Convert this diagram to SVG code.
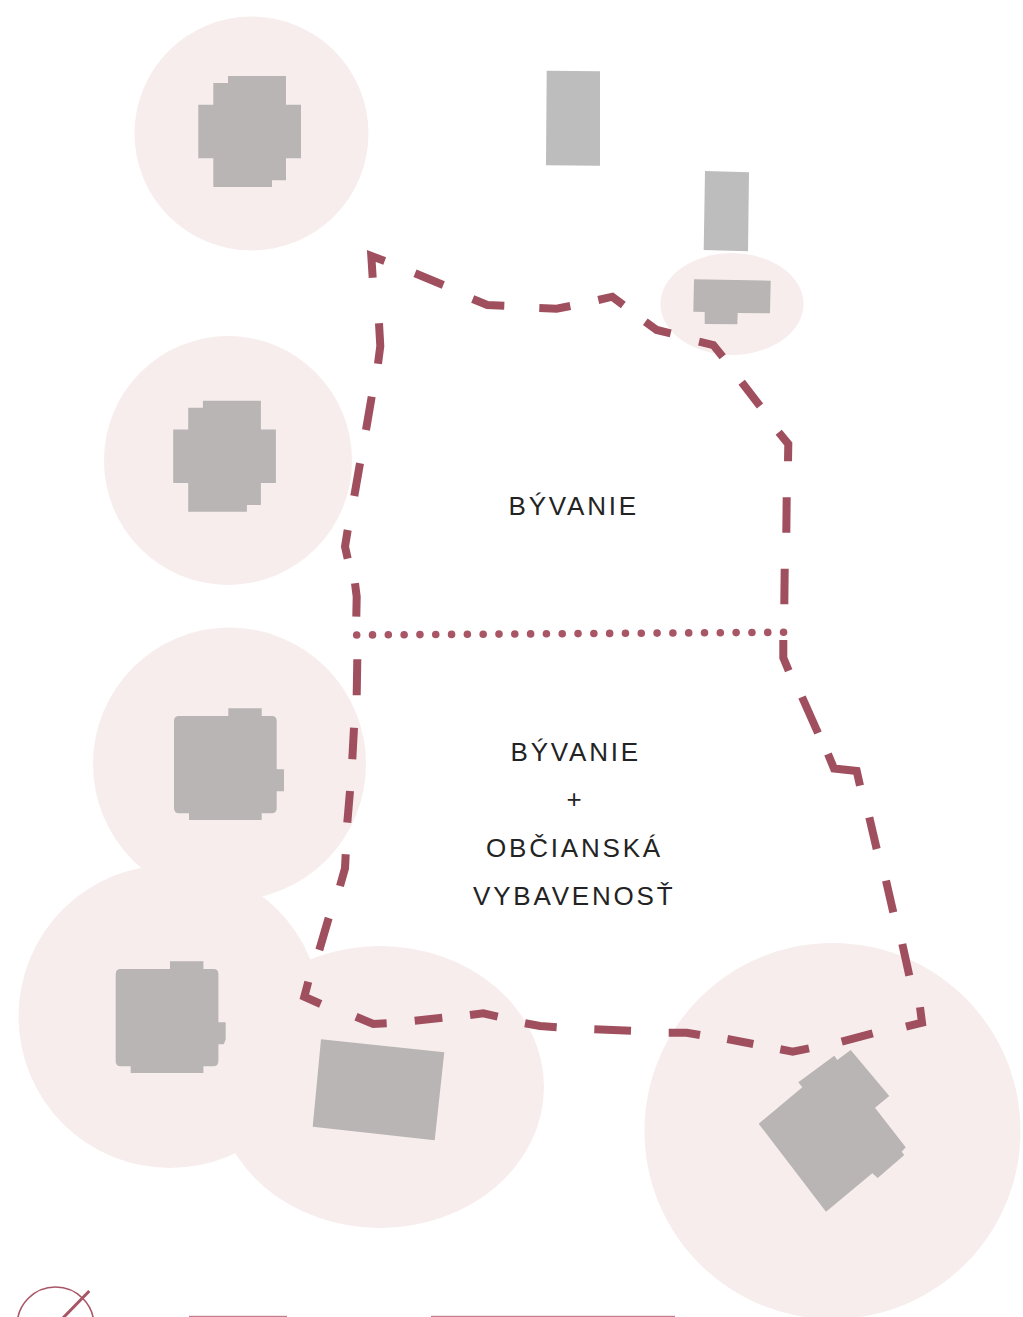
<svg xmlns="http://www.w3.org/2000/svg" width="1023" height="1317" viewBox="0 0 1023 1317">
<style>
.zone{fill:#f7eded}
.bld{fill:#b9b5b5}
.plain{fill:#bdbdbd}
.dash{fill:none;stroke:#a04f5e;stroke-width:8;stroke-linejoin:miter;stroke-miterlimit:6;stroke-linecap:butt}
.dots{fill:none;stroke:#a85666;stroke-width:7.6;stroke-linecap:round;stroke-dasharray:0 15.81}
.lbl{font-family:"Liberation Sans",Arial,sans-serif;font-size:26px;letter-spacing:2.8px;fill:#232323}
.leg{fill:none;stroke:#a85666}
</style>
<defs>
<path id="b-octa" d="M228 76H286V104.7H301V158.3H286V180.3H272V187H213.3V158.3H198.3V104.7H213.3V83H228Z"/>
<path id="b-square" d="M179 716H271.7Q276.7 716 276.7 721V769.3H284V791.3H276.7V808.3Q276.7 813.3 271.7 813.3H261.7V820H189V813.3H179Q174 813.3 174 808.3V721Q174 716 179 716ZM228.3 716V708.3H261.7V716Z"/>
</defs>
<rect width="1023" height="1317" fill="#fff"/>
<g id="node-1"><circle class="zone" cx="251.5" cy="133.5" r="117"/><use href="#b-octa" class="bld"/></g>
<g id="node-2"><ellipse class="zone" cx="228" cy="460.5" rx="124" ry="124.5"/><use href="#b-octa" class="bld" transform="translate(-25.1 324.7)"/></g>
<g id="node-3"><circle class="zone" cx="229.5" cy="764" r="136.5"/><use href="#b-square" class="bld"/></g>
<g id="node-4"><circle class="zone" cx="170" cy="1016.5" r="151.5"/><use href="#b-square" class="bld" transform="translate(-58.3 253)"/></g>
<g id="node-5"><ellipse class="zone" cx="380" cy="1087" rx="164" ry="141"/><polygon class="bld" points="321,1039.3 444.3,1052.3 434.7,1140.3 312.7,1126.7"/></g>
<g id="node-6"><circle class="zone" cx="832.5" cy="1131" r="188"/><polygon class="bld" points="850.7,1050 889.3,1096 875,1107.7 905.7,1147.3 901.7,1151.7 904.3,1155 877.7,1178 872.3,1173.3 826,1211.7 758.7,1123.7 802.3,1087.3 798.3,1082.3 834.3,1055.7 837.3,1060"/></g>
<g id="node-7"><polygon class="plain" points="546.7,70.7 600,71.3 600,165.7 546,165.3"/></g>
<g id="node-8"><polygon class="plain" points="705,171 749,172.3 748,251.3 703.7,250"/></g>
<g id="node-9"><ellipse class="zone" cx="732" cy="304" rx="71.5" ry="51"/><polygon class="bld" points="694,279.3 770.7,280.7 770,313.3 737.7,313 737.3,324.3 704.7,324 704.7,312 693.3,311.7"/></g>
<g id="connectors">
<polyline class="dash" points="372.7,277.7 371.3,256 384.7,261"/>
<polyline class="dash" points="415,273.3 443.3,285"/>
<polyline class="dash" points="472.7,299 487.3,305 504.3,305.7"/>
<polyline class="dash" points="539.3,308 556.7,308.7 570.3,306"/>
<polyline class="dash" points="598.3,300 612.3,296.7 623.3,305"/>
<polyline class="dash" points="645.3,321.7 656.7,330 670.7,333.3"/>
<polyline class="dash" points="699,341.7 713.3,345 722.7,356.7"/>
<polyline class="dash" points="741.7,382.3 760,406"/>
<polyline class="dash" points="778.7,432.3 788.3,444 788,461.3"/>
<polyline class="dash" points="786.7,497.3 786.3,532.7"/>
<polyline class="dash" points="784.7,568.7 784.3,604.3"/>
<polyline class="dash" points="783.3,640 783.3,657.7 788.7,670.7"/>
<polyline class="dash" points="802,697 818,733"/>
<polyline class="dash" points="828,754 834,768.5 856.7,771 860,785.7"/>
<polyline class="dash" points="869.3,817.3 876.7,849"/>
<polyline class="dash" points="886,880.7 893.3,912.3"/>
<polyline class="dash" points="902.3,944 909.3,975.7"/>
<polyline class="dash" points="920,1007.3 922,1022.7 906,1026.7"/>
<polyline class="dash" points="872.7,1033.3 841.7,1041.7"/>
<polyline class="dash" points="809,1048.3 792.7,1051.7 780.3,1049.3"/>
<polyline class="dash" points="753.3,1044 727.3,1039"/>
<polyline class="dash" points="700,1035 686.7,1032.7 668.7,1032.7"/>
<polyline class="dash" points="631,1030.7 594.3,1029.3"/>
<polyline class="dash" points="556.7,1027.3 540,1026 525,1023.3"/>
<polyline class="dash" points="497.7,1016.7 483.3,1013.3 470,1015"/>
<polyline class="dash" points="442.3,1017.7 414.7,1020.7"/>
<polyline class="dash" points="386.7,1023.3 373.3,1024 356,1016.7"/>
<polyline class="dash" points="320.7,1004 304.3,996.7 308.3,981.7"/>
<polyline class="dash" points="328.7,918 319.3,950"/>
<polyline class="dash" points="345.7,854.3 345,868.3 340,886"/>
<polyline class="dash" points="350,791 347.3,822.7"/>
<polyline class="dash" points="354,727.7 352.3,759.3"/>
<polyline class="dash" points="357.3,659.3 356.7,695.3"/>
<polyline class="dash" points="355,583.3 356.7,596.7 356.3,616.7"/>
<polyline class="dash" points="347.7,530 345,546.7 347.7,558.7"/>
<polyline class="dash" points="360,463.3 354.3,496"/>
<polyline class="dash" points="371.7,396.7 366,430"/>
<polyline class="dash" points="379,323.3 380.3,346 378,363.7"/>
<line class="dots" x1="356.7" y1="635" x2="784" y2="632.3"/>
</g>
<g id="labels">
<text class="lbl" x="508.5" y="515">BÝVANIE</text>
<text class="lbl" x="510.5" y="760.7">BÝVANIE</text>
<text class="lbl" x="566.4" y="808">+</text>
<text class="lbl" x="486" y="856.7">OBČIANSKÁ</text>
<text class="lbl" x="473" y="904.7">VYBAVENOSŤ</text>
</g>
<g id="legend">
<circle class="leg" cx="55.5" cy="1325.4" r="38.4" stroke-width="1.6"/>
<line class="leg" x1="89.3" y1="1291" x2="61" y2="1320" stroke-width="3"/>
<rect x="189" y="1315.8" width="98" height="1.2" fill="#c27f8b"/>
<rect x="431" y="1315.8" width="244" height="1.2" fill="#c27f8b"/>
</g>
</svg>
